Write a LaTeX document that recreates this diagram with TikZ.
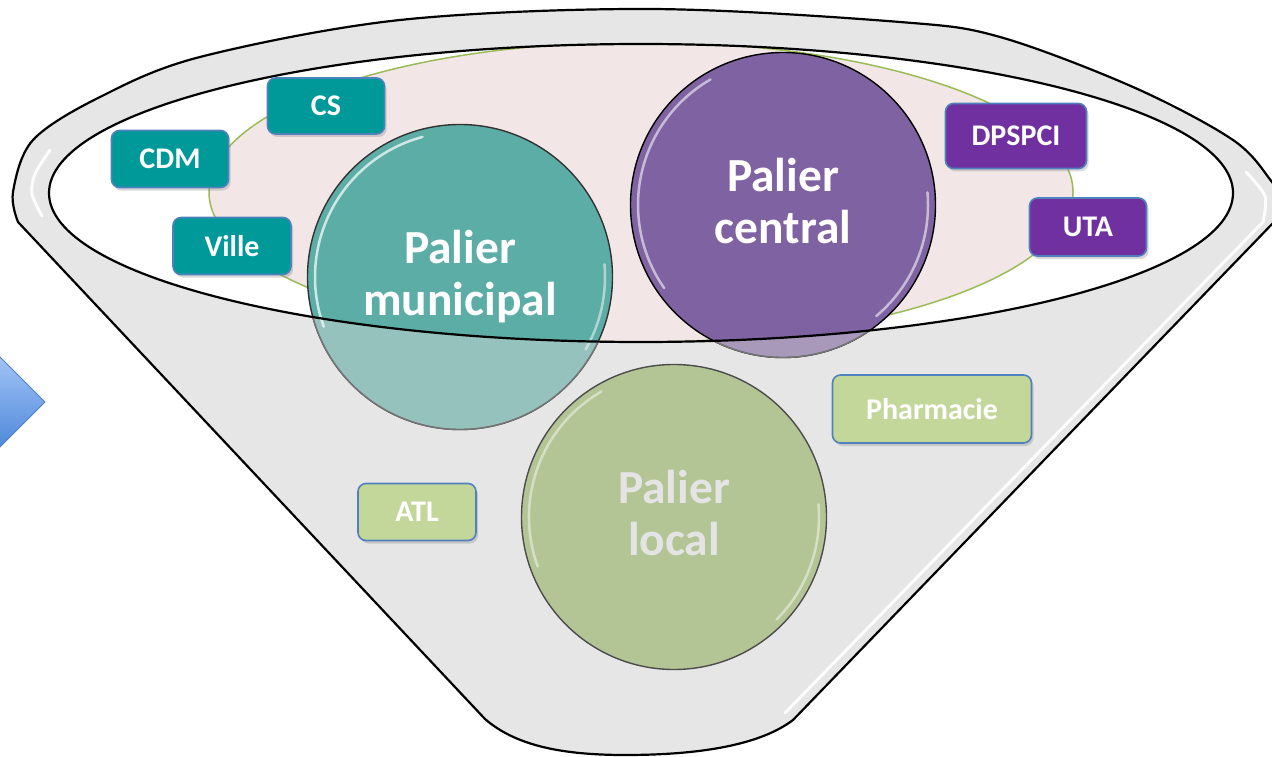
\documentclass[tikz,border=0pt]{standalone}
\usepackage{fontspec}
\setmainfont{Carlito}
\usetikzlibrary{shadows}
\definecolor{funnelgray}{HTML}{E6E6E6}
\definecolor{overlaygray}{HTML}{DCDCDC}
\definecolor{pinkfill}{HTML}{F2E7E6}
\definecolor{olivegreen}{HTML}{9BBB59}
\definecolor{tealbox}{HTML}{009999}
\definecolor{purplebox}{HTML}{7030A0}
\definecolor{greenbox}{HTML}{C4D79B}
\definecolor{boxborder}{HTML}{4F81BD}
\definecolor{munfill}{HTML}{5BADA5}
\definecolor{cenfill}{HTML}{7F62A1}
\definecolor{locfill}{HTML}{B3C595}
\definecolor{loctext}{HTML}{E4E4E4}
\definecolor{arrowtop}{HTML}{A6C6F8}
\definecolor{arrowbot}{HTML}{4A86D8}
\def\funnelpathdef{plot[smooth, tension=0.55] coordinates {(18,222) (13,192) (33,140) (100,97) (200,57) (400,20) (650,9) (900,22) (1000,37) (1133,87) (1233,140) (1272,182) (1290,210)} -- (1274,222) -- (793,720) .. controls (760,745) and (700,755) .. (625,755) .. controls (560,755) and (515,745) .. (485,719) -- cycle}
\begin{document}
\begin{tikzpicture}[x=1pt,y=-1pt,
  box/.style={draw=boxborder, line width=1.6pt, rounded corners=8pt, text=white,
    font=\bfseries\fontsize{30}{35}\selectfont, inner sep=0pt,
    drop shadow={opacity=0.3, shadow xshift=2pt, shadow yshift=-3pt}},
  tealstyle/.style={box, fill=tealbox},
  purplestyle/.style={box, fill=purplebox},
  greenstyle/.style={box, fill=greenbox},
  disc/.style={circle, inner sep=0pt, minimum size=305pt, line width=1.4pt},
  disctext/.style={align=center, font=\bfseries\fontsize{47.5}{52}\selectfont, inner sep=0pt},
  gloss/.style={white, line width=2.5pt, opacity=0.7, line cap=round}
]
\useasboundingbox (0,0) rectangle (1272,757);
\clip (0,0) rectangle (1272,757);
\fill[white] (0,0) rectangle (1272,757);

% left arrow
\shade[top color=arrowtop, bottom color=arrowbot, draw=boxborder, line width=1pt]
  (-5,352) -- (45,402) -- (-5,452) -- cycle;

% funnel body
\path[fill=funnelgray, draw=black, line width=2.2pt] \funnelpathdef;

% opening
\fill[white] (641,193) ellipse[x radius=592, y radius=149];
\begin{scope}
  \clip (641,193) ellipse[x radius=592, y radius=149];
  \path[fill=pinkfill, draw=olivegreen, line width=1.5pt] (641,192) ellipse[x radius=432, y radius=150];
\end{scope}

% upper circles
\node[disc, fill=munfill, draw=black!80] (mun) at (460,277) {};
\node[disc, fill=cenfill, draw=black] (cen) at (783,205) {};

% washed-out parts below the opening
\begin{scope}[even odd rule]
  \clip (-20,-20) rectangle (1300,780) (641,193) ellipse[x radius=592, y radius=149];
  \fill[overlaygray, opacity=0.45] (mun.center) circle[radius=152.5];
  \fill[overlaygray, opacity=0.45] (cen.center) circle[radius=152.5];
  \draw[black!55, line width=1.4pt] (mun.center) circle[radius=152.5];
  \draw[black!55, line width=1.4pt] (cen.center) circle[radius=152.5];
\end{scope}

% glossy highlights
\draw[gloss] ([shift={(-105:145)}]mun.center) arc[start angle=-105, end angle=-200, radius=145];
\draw[gloss, opacity=0.5] ([shift={(-5:145)}]mun.center) arc[start angle=-5, end angle=30, radius=145];
\draw[gloss, white!80!cenfill] ([shift={(-120:145)}]cen.center) arc[start angle=-120, end angle=-215, radius=145];
\draw[gloss, white!80!cenfill] ([shift={(-5:145)}]cen.center) arc[start angle=-5, end angle=50, radius=145];

% opening outline
\draw[black, line width=2.2pt] (641,193) ellipse[x radius=592, y radius=149];

% rim highlights
\draw[white, line width=3pt, opacity=0.9, line cap=round] plot[smooth] coordinates {(50,150) (35,174) (32,194) (42,216)};
\draw[white, line width=3pt, opacity=0.9, line cap=round] plot[smooth] coordinates {(1246,172) (1265,196) (1263,222)} -- (785,713);

% lower circle
\node[disc, fill=locfill, draw=black!70] (loc) at (674,517) {};
\draw[gloss, opacity=0.45] ([shift={(-120:145)}]loc.center) arc[start angle=-120, end angle=-200, radius=145];
\draw[gloss, opacity=0.45] ([shift={(-5:145)}]loc.center) arc[start angle=-5, end angle=45, radius=145];

% circle labels
\node[disctext, text=white] (muntxt) at (460,277) {Palier\\municipal};
\node[disctext, text=white] (centxt) at (783,201) {Palier\\central};
\node[disctext, text=loctext] (loctxt) at (674,513) {Palier\\local};

% boxes
\node[tealstyle, minimum width=117pt, minimum height=56pt] (cs) at (326,106) {CS};
\node[tealstyle, minimum width=117pt, minimum height=57pt] (cdm) at (170,159) {CDM};
\node[tealstyle, minimum width=118pt, minimum height=57pt] (ville) at (232,246) {Ville};
\node[purplestyle, minimum width=141pt, minimum height=65pt] (dpspci) at (1016,136) {DPSPCI};
\node[purplestyle, minimum width=117pt, minimum height=58pt] (uta) at (1088,227) {UTA};
\node[greenstyle, minimum width=199pt, minimum height=68pt] (pharma) at (932,409) {Pharmacie};
\node[greenstyle, minimum width=118pt, minimum height=57pt] (atl) at (417,512) {ATL};
\end{tikzpicture}
\end{document}
